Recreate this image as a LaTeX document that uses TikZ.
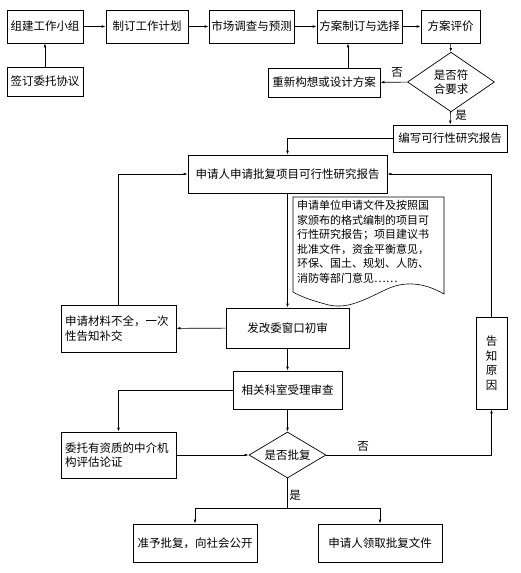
\documentclass[tikz,border=0pt]{standalone}
\usepackage{fontspec}
\setmainfont{Noto Sans CJK SC}
\usetikzlibrary{shapes.geometric,arrows.meta}
\tikzset{
  box/.style={draw, line width=0.7pt, inner sep=0pt, align=center, font=\fontsize{11.5}{14.5}\selectfont},
  dia/.style={draw, diamond, line width=0.7pt, inner sep=0pt, align=center, font=\fontsize{11.5}{14.5}\selectfont},
  arr/.style={line width=0.6pt, -{Latex[length=4pt,width=2.6pt]}},
  lin/.style={line width=0.6pt},
  lab/.style={font=\fontsize{11.5}{14}\selectfont, inner sep=0pt}
}
\begin{document}
\begin{tikzpicture}[x=1pt,y=-1pt]
\useasboundingbox (0,0) rectangle (520,573);
% top row
\node[box, minimum width=76pt, minimum height=33pt] (n1) at (45,26.5) {组建工作小组};
\node[box, minimum width=82pt, minimum height=33pt] (n2) at (147,26.5) {制订工作计划};
\node[box, minimum width=85pt, minimum height=33pt] (n3) at (251.5,26.5) {市场调查与预测};
\node[box, minimum width=85pt, minimum height=33pt] (n4) at (359.5,26.5) {方案制订与选择};
\node[box, minimum width=59pt, minimum height=33pt] (n5) at (450.5,26.5) {方案评价};
\node[box, minimum width=76pt, minimum height=29pt] (s) at (45,81.5) {签订委托协议};
\node[box, minimum width=112pt, minimum height=29pt] (r) at (324,82.5) {重新构想或设计方案};
\node[dia, minimum width=87pt, minimum height=48pt] (d1) at (451,82) {是否符\\合要求};
\node[box, minimum width=114pt, minimum height=27pt] (w) at (450,138.5) {编写可行性研究报告};
\node[box, minimum width=199pt, minimum height=38pt] (a) at (287.5,174) {申请人申请批复项目可行性研究报告};
% document shape
\draw[lin] (293,197) -- (444,197) -- (444,294)
  .. controls (425,283) and (405,280) .. (385,290)
  .. controls (360,302) and (345,310) .. (325,304)
  .. controls (310,300) and (300,296) .. (293,292) -- cycle;
\node[lab, anchor=north west, align=left, font=\fontsize{11}{14.6}\selectfont] (doc) at (297,200)
  {申请单位申请文件及按照国\\家颁布的格式编制的项目可\\行性研究报告；项目建议书\\批准文件，资金平衡意见，\\环保、国土、规划、人防、\\消防等部门意见……};
\node[box, minimum width=115pt, minimum height=47pt, align=left, text width=107pt] (m) at (118.5,328.5) {申请材料不全，一次\\性告知补交};
\node[box, minimum width=123pt, minimum height=40pt] (f) at (287.5,328) {发改委窗口初审};
\node[box, minimum width=31pt, minimum height=92pt] (g) at (491.5,363) {告\\知\\原\\因};
\node[box, minimum width=109pt, minimum height=38pt] (x) at (287.5,390) {相关科室受理审查};
\node[box, minimum width=115pt, minimum height=46pt, align=left, text width=107pt] (t) at (118.5,455) {委托有资质的中介机\\构评估论证};
\node[dia, minimum width=77pt, minimum height=46pt, aspect=1.7] (d2) at (287.5,455) {是否批复};
\node[box, minimum width=124pt, minimum height=38pt] (p) at (195,543) {准予批复，向社会公开};
\node[box, minimum width=124pt, minimum height=38pt] (q) at (380,543) {申请人领取批复文件};
\coordinate (sp) at (287.5,508);
% connectors
\draw[arr] (n1) -- (n2);
\draw[arr] (n2) -- (n3);
\draw[arr] (n3) -- (n4);
\draw[arr] (n4) -- (n5);
\draw[arr] (s) -- (n1);
\draw[arr] (n5) -- (d1);
\draw[arr] (d1) -- (r);
\draw[arr] ([xshift=24pt]r.north) -- ([xshift=24pt]r.north |- n4.south);
\draw[arr] (d1) -- (w);
\draw[arr] (w.west) -| (a.north);
\draw[arr] (a) -- (f);
\draw[arr] (f) -- (m);
\draw[arr] (m.north) |- (a.west);
\draw[arr] (g.north) |- (a.east);
\draw[arr] (f) -- (x);
\draw[arr] (x.west) -| (t.north);
\draw[arr] (x) -- (d2);
\draw[arr] (t) -- (d2);
\draw[arr] (d2.east) -| (g.south);
\draw[lin] (d2.south) -- (sp);
\draw[arr] (sp) -| (p.north);
\draw[arr] (sp) -| (q.north);
% labels
\node[lab] (l1) at (397,72) {否};
\node[lab] (l2) at (461,115) {是};
\node[lab] (l3) at (363,446) {否};
\node[lab] (l4) at (295,495) {是};
\end{tikzpicture}
\end{document}
